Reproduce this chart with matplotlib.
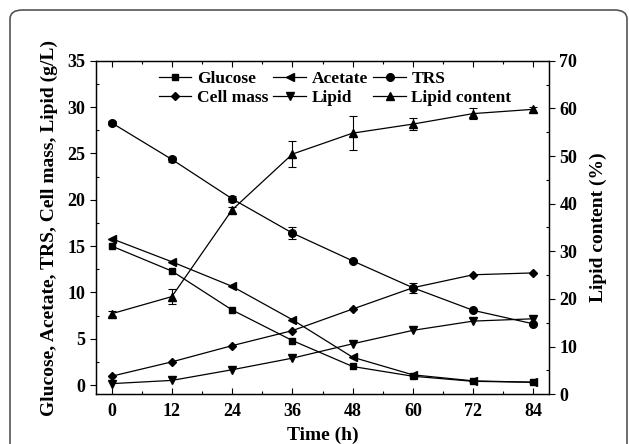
import matplotlib
matplotlib.use("Agg")
import matplotlib.pyplot as plt
from matplotlib.patches import FancyBboxPatch
from matplotlib.lines import Line2D
from matplotlib.ticker import MultipleLocator

plt.rcParams['font.family'] = ['Liberation Serif', 'DejaVu Serif']
plt.rcParams['font.weight'] = 'bold'

time_h = [0, 12, 24, 36, 48, 60, 72, 84]
glucose = [15.0, 12.3, 8.1, 4.8, 2.0, 0.95, 0.4, 0.3]
acetate = [15.8, 13.3, 10.65, 7.05, 3.0, 1.1, 0.45, 0.3]
trs = [28.3, 24.35, 20.1, 16.4, 13.4, 10.5, 8.06, 6.6]
trs_err = [0.2, 0.3, 0.3, 0.6, 0.1, 0.55, 0.1, 0.1]
cell_mass = [0.95, 2.5, 4.25, 5.87, 8.2, 10.5, 11.9, 12.1]
lipid = [0.15, 0.5, 1.65, 2.9, 4.45, 5.9, 6.9, 7.15]
lipid_content = [16.9, 20.5, 38.7, 50.4, 54.8, 56.7, 58.9, 59.8]
lipid_content_err = [0.5, 1.5, 0.7, 2.8, 3.5, 1.2, 1.15, 0.5]

fig = plt.figure(figsize=(6.29, 4.44), dpi=100)
ax = fig.add_axes([96/629, 1-394.3/444, (549-96)/629, (394.3-60.7)/444])
ax2 = ax.twinx()

lw = 0.9
kw = dict(color='black', lw=lw, mfc='black', mec='black')
styles = {
    'Glucose': dict(marker='s', ms=4.8),
    'Acetate': dict(marker='<', ms=5.5),
    'TRS': dict(marker='o', ms=5.5),
    'Cell mass': dict(marker='D', ms=4.5),
    'Lipid': dict(marker='v', ms=5.5),
    'Lipid content': dict(marker='^', ms=5.5),
}
ax.plot(time_h, glucose, **styles['Glucose'], **kw)
ax.plot(time_h, acetate, **styles['Acetate'], **kw)
ax.errorbar(time_h, trs, yerr=trs_err, capsize=3, elinewidth=0.8, capthick=0.8,
            **styles['TRS'], **kw)
ax.plot(time_h, cell_mass, **styles['Cell mass'], **kw)
ax.plot(time_h, lipid, **styles['Lipid'], **kw)
ax2.errorbar(time_h, lipid_content, yerr=lipid_content_err, capsize=3, elinewidth=0.8,
             capthick=0.8, **styles['Lipid content'], **kw)

ax.set_xlim(-3.1, 87.1)
ax.set_ylim(-1, 35)
ax2.set_ylim(0, 70)
ax.xaxis.set_major_locator(MultipleLocator(12))
ax.xaxis.set_minor_locator(MultipleLocator(6))
ax.yaxis.set_major_locator(MultipleLocator(5))
ax.yaxis.set_minor_locator(MultipleLocator(2.5))
ax2.yaxis.set_major_locator(MultipleLocator(10))
ax2.yaxis.set_minor_locator(MultipleLocator(5))

ax.tick_params(axis='x', which='major', direction='in', length=4, width=0.8, top=True, labelsize=13, pad=6)
ax.tick_params(axis='x', which='minor', direction='in', length=2, width=0.8, top=True)
ax.tick_params(axis='y', which='major', direction='out', length=4, width=0.8, labelsize=13)
ax.tick_params(axis='y', which='minor', direction='in', length=2, width=0.8)
ax2.tick_params(axis='y', which='major', direction='out', length=4, width=0.8, labelsize=13)
ax2.tick_params(axis='y', which='minor', direction='in', length=2, width=0.8)
for a in (ax, ax2):
    for s in a.spines.values():
        s.set_linewidth(0.9)
    for lab in a.get_xticklabels() + a.get_yticklabels():
        lab.set_fontweight('bold')

ax.set_xlabel('Time (h)', fontsize=14, fontweight='bold', labelpad=5)
ax.set_ylabel('Glucose, Acetate, TRS, Cell mass, Lipid (g/L)', fontsize=14, fontweight='bold', labelpad=7)
ax2.set_ylabel('Lipid content (%)', fontsize=14, fontweight='bold', labelpad=9)

order = ['Glucose', 'Cell mass', 'Acetate', 'Lipid', 'TRS', 'Lipid content']
handles = [Line2D([], [], **styles[n], **kw) for n in order]
leg = ax.legend(handles, order, ncol=3, loc='upper left', bbox_to_anchor=(0.115, 1.0),
                frameon=False, handlelength=1.9, handletextpad=0.3, columnspacing=0.3,
                labelspacing=0.15, borderaxespad=0.2, prop={'size': 12.5, 'weight': 'bold'})

box = FancyBboxPatch((10/629, -0.2), (627-10)/629, 1.2 - 10/444,
                     boxstyle='round,pad=0,rounding_size=0.02',
                     transform=fig.transFigure, fill=False, ec='#555555', lw=1.2,
                     clip_on=False)
fig.patches.append(box)

fig.savefig('out.png', dpi=100)
